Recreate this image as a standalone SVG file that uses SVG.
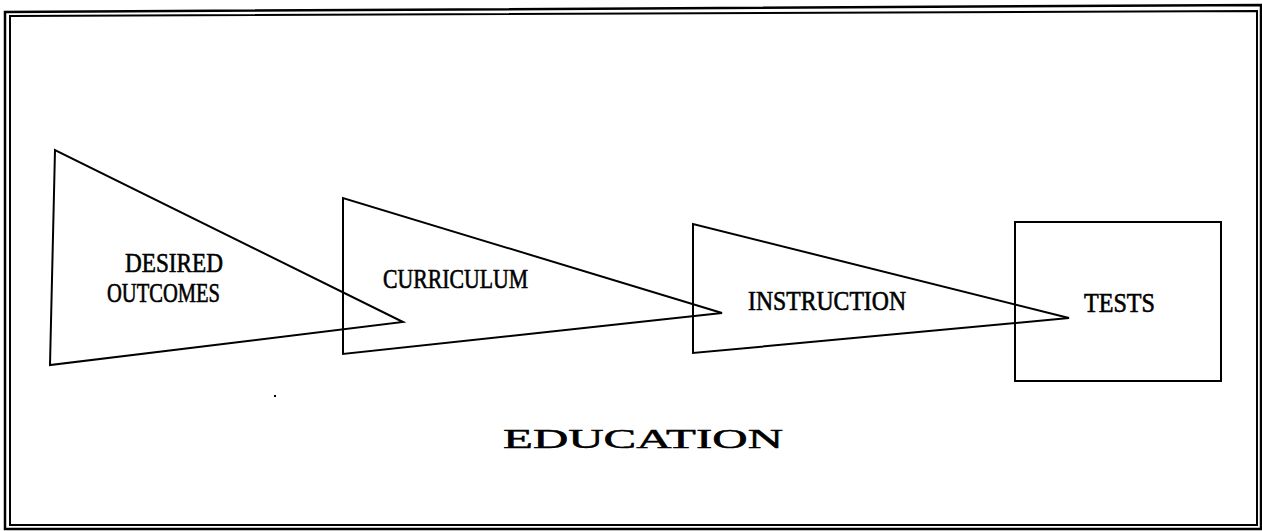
<svg xmlns="http://www.w3.org/2000/svg" width="1262" height="531" viewBox="0 0 1262 531">
  <style>
    .frame { fill: none; stroke: #000; stroke-linejoin: miter; }
    .shape { fill: none; stroke: #000; stroke-width: 2; stroke-linejoin: miter; }
    .label { font-family: "Liberation Serif", "Times New Roman", serif; font-size: 27px; fill: #000; stroke: #000; stroke-width: 0.6; }
    .title { font-family: "Liberation Serif", "Times New Roman", serif; font-size: 28px; fill: #000; stroke: #000; stroke-width: 0.5; }
  </style>
  <rect x="0" y="0" width="1262" height="531" fill="#fff"/>

  <!-- double border -->
  <g id="border">
    <polygon class="frame" stroke-width="2.5" points="5,12 1261,5 1261,529 5,529"/>
    <polygon class="frame" stroke-width="2" points="10,16 1257,11 1257,525 10,525"/>
  </g>

  <g id="desired-outcomes">
    <polygon class="shape" points="55,150 50,365 403,322"/>
    <text class="label" x="125" y="272" textLength="98" lengthAdjust="spacingAndGlyphs">DESIRED</text>
    <text class="label" x="107" y="302" textLength="113" lengthAdjust="spacingAndGlyphs">OUTCOMES</text>
  </g>

  <g id="curriculum">
    <polygon class="shape" points="343,198 343,354 722,313"/>
    <text class="label" x="383" y="288" textLength="145" lengthAdjust="spacingAndGlyphs">CURRICULUM</text>
  </g>

  <g id="instruction">
    <polygon class="shape" points="693,224 693,353 1069,318"/>
    <text class="label" x="748" y="310" textLength="158" lengthAdjust="spacingAndGlyphs">INSTRUCTION</text>
  </g>

  <g id="tests">
    <rect class="shape" x="1015" y="222" width="206" height="159"/>
    <text class="label" x="1084" y="312" textLength="71" lengthAdjust="spacingAndGlyphs">TESTS</text>
  </g>

  <g id="connectors"></g>

  <!-- stray speck -->
  <rect x="274" y="395" width="2" height="2" fill="#000"/>

  <text id="education" class="title" x="503" y="448" textLength="280" lengthAdjust="spacingAndGlyphs">EDUCATION</text>
</svg>
